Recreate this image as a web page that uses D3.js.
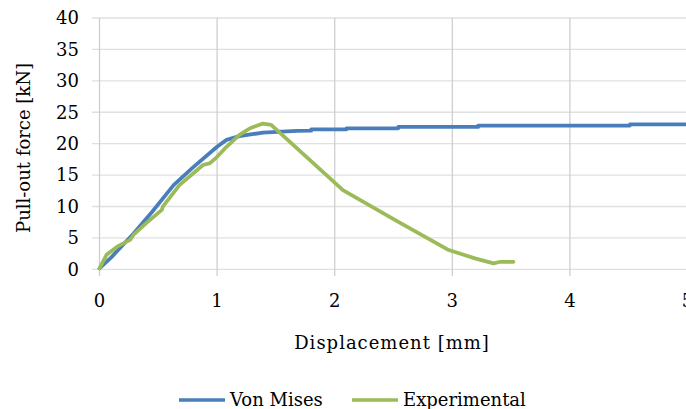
<!DOCTYPE html>
<html>
<head>
<meta charset="utf-8">
<script src="https://cdn.jsdelivr.net/npm/d3@7"></script>
<style>
  body { margin: 0; background: #fff; }
  svg text { font-family: "DejaVu Serif", serif; fill: #000; }
</style>
</head>
<body>
<div id="chart"></div>
<script>
// Von Mises (simulation) and experimental pull-out curves
const vonMisesX = [0, 0.1, 0.29, 0.45, 0.63, 0.8, 1.0, 1.08, 1.19, 1.3, 1.39, 1.55, 1.68, 1.8, 1.8, 2.1, 2.1, 2.54, 2.54, 3.22, 3.22, 4.51, 4.51, 5.0];
const vonMisesY = [0.15, 1.9, 5.7, 9.2, 13.4, 16.3, 19.5, 20.6, 21.2, 21.5, 21.75, 21.9, 22.05, 22.07, 22.29, 22.29, 22.45, 22.45, 22.66, 22.66, 22.87, 22.87, 23.05, 23.05];

const expX = [0, 0.06, 0.15, 0.26, 0.29, 0.4, 0.53, 0.54, 0.68, 0.88, 0.94, 1.0, 1.08, 1.19, 1.28, 1.39, 1.46, 2.07, 2.5, 2.97, 3.2, 3.35, 3.41, 3.52];
const expY = [0.15, 2.3, 3.6, 4.67, 5.5, 7.4, 9.45, 10.0, 13.4, 16.6, 16.9, 17.9, 19.5, 21.4, 22.45, 23.2, 23.0, 12.6, 8.0, 3.07, 1.7, 0.95, 1.2, 1.2];

const xTicks = [0, 1, 2, 3, 4, 5];
const yTicks = [0, 5, 10, 15, 20, 25, 30, 35, 40];

const seriesNames = ["Von Mises", "Experimental"];
const colors = ["#4A7EBB", "#9BBB59"];

const width = 686, height = 409;

const svg = d3.select("#chart")
  .append("svg")
  .attr("width", width)
  .attr("height", height);

const x = d3.scaleLinear().domain([0, 5]).range([99.5, 687.5]);
const y = d3.scaleLinear().domain([0, 40]).range([269.3, 18]);

// horizontal gridlines
svg.append("g")
  .selectAll("line")
  .data(yTicks)
  .enter()
  .append("line")
  .attr("x1", 92)
  .attr("x2", width)
  .attr("y1", d => y(d))
  .attr("y2", d => y(d))
  .attr("stroke", "#e0e0e0")
  .attr("stroke-width", 1.3);

// vertical gridlines
svg.append("g")
  .selectAll("line")
  .data(xTicks)
  .enter()
  .append("line")
  .attr("x1", d => x(d))
  .attr("x2", d => x(d))
  .attr("y1", y(40))
  .attr("y2", 276)
  .attr("stroke", "#cfcfcf")
  .attr("stroke-width", 1.3);

// tick labels
svg.append("g")
  .selectAll("text")
  .data(yTicks)
  .enter()
  .append("text")
  .attr("x", 79)
  .attr("y", d => y(d))
  .attr("dy", "0.35em")
  .attr("text-anchor", "end")
  .style("font-size", "18px")
  .text(d => d);

svg.append("g")
  .selectAll("text")
  .data(xTicks)
  .enter()
  .append("text")
  .attr("x", d => x(d))
  .attr("y", 301)
  .attr("dy", "0.35em")
  .attr("text-anchor", "middle")
  .style("font-size", "18px")
  .text(d => d);

// axis titles
svg.append("text")
  .attr("x", 392)
  .attr("y", 343)
  .attr("dy", "0.35em")
  .attr("text-anchor", "middle")
  .style("font-size", "18px")
  .style("letter-spacing", "1px")
  .text("Displacement [mm]");

svg.append("text")
  .attr("transform", "translate(24,148) rotate(-90)")
  .attr("dy", "0.35em")
  .attr("text-anchor", "middle")
  .style("font-size", "18px")
  .text("Pull-out force [kN]");

// lines
const line = d3.line()
  .x(d => x(d[0]))
  .y(d => y(d[1]));

const series = [
  d3.zip(vonMisesX, vonMisesY),
  d3.zip(expX, expY)
];

svg.append("g")
  .selectAll("path")
  .data(series)
  .enter()
  .append("path")
  .attr("d", line)
  .attr("fill", "none")
  .attr("stroke", (d, i) => colors[i])
  .attr("stroke-width", 3.75)
  .attr("stroke-linejoin", "round")
  .attr("stroke-linecap", "round");

// legend
const legendX = [179, 352];
const legend = svg.append("g")
  .selectAll("g")
  .data(seriesNames)
  .enter()
  .append("g")
  .attr("transform", (d, i) => `translate(${legendX[i]},400)`);

legend.append("line")
  .attr("x1", 0)
  .attr("x2", 46)
  .attr("stroke", (d, i) => colors[i])
  .attr("stroke-width", 3.5);

legend.append("text")
  .attr("x", 51)
  .attr("dy", "0.35em")
  .style("font-size", "18px")
  .text(d => d);
</script>
</body>
</html>
